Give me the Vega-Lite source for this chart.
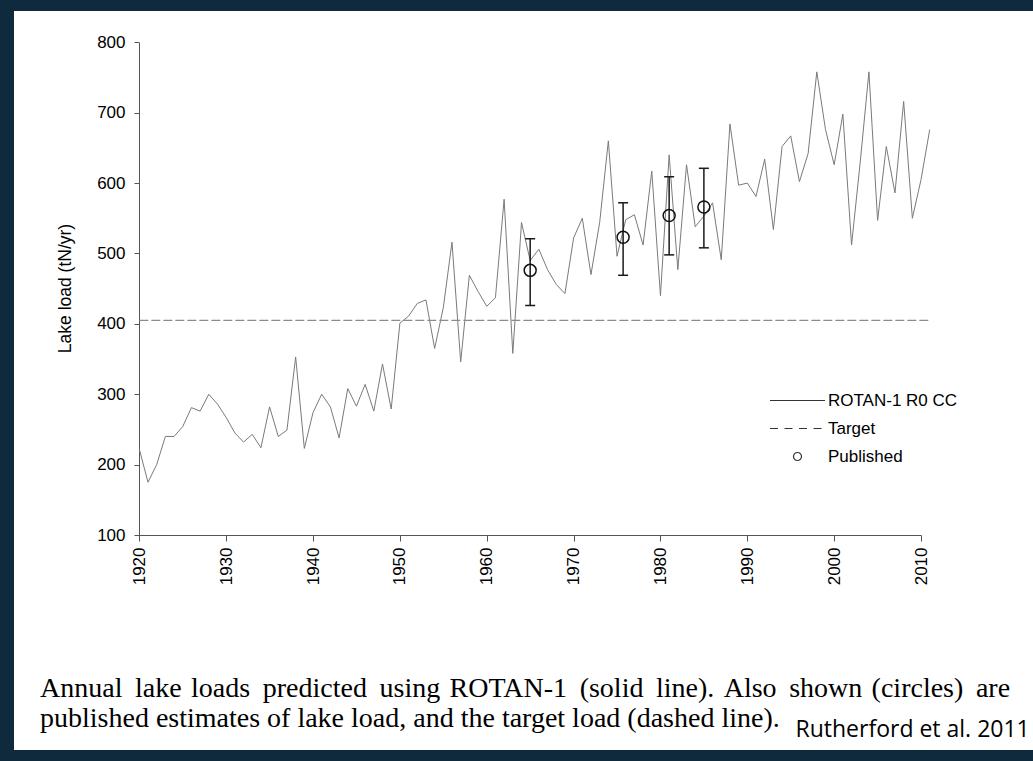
{
  "$schema": "https://vega.github.io/schema/vega-lite/v6.json",
  "width": 1019,
  "height": 739,
  "autosize": {"type": "none"},
  "padding": {"left": 14, "top": 11, "right": 0, "bottom": 11},
  "background": "#0f2a3d",
  "config": {
    "view": {"fill": "white", "stroke": null},
    "font": "Liberation Sans"
  },
  "title": {
    "text": [
      "Annual \u2009lake \u200aloads \u2009predicted \u2009using \u200aROTAN-1 \u2009(solid \u2009line). \u200aAlso \u2009shown \u200a(circles) \u2009are",
      "published estimates of lake load, and the target load (dashed line)."
    ],
    "orient": "bottom",
    "anchor": "start",
    "frame": "group",
    "font": "Liberation Serif",
    "fontSize": 28,
    "fontWeight": "normal",
    "color": "black",
    "lineHeight": 30,
    "baseline": "top",
    "offset": -75,
    "dx": 26
  },
  "datasets": {
    "rotan": [
      {"year": 1920, "load": 222}, {"year": 1921, "load": 175}, {"year": 1922, "load": 200},
      {"year": 1923, "load": 240}, {"year": 1924, "load": 240}, {"year": 1925, "load": 254},
      {"year": 1926, "load": 281}, {"year": 1927, "load": 276}, {"year": 1928, "load": 300},
      {"year": 1929, "load": 286}, {"year": 1930, "load": 267}, {"year": 1931, "load": 245},
      {"year": 1932, "load": 232}, {"year": 1933, "load": 243}, {"year": 1934, "load": 224},
      {"year": 1935, "load": 282}, {"year": 1936, "load": 240}, {"year": 1937, "load": 249},
      {"year": 1938, "load": 353}, {"year": 1939, "load": 223}, {"year": 1940, "load": 274},
      {"year": 1941, "load": 300}, {"year": 1942, "load": 282}, {"year": 1943, "load": 238},
      {"year": 1944, "load": 308}, {"year": 1945, "load": 283}, {"year": 1946, "load": 314},
      {"year": 1947, "load": 276}, {"year": 1948, "load": 343}, {"year": 1949, "load": 279},
      {"year": 1950, "load": 401}, {"year": 1951, "load": 411}, {"year": 1952, "load": 429},
      {"year": 1953, "load": 434}, {"year": 1954, "load": 365}, {"year": 1955, "load": 423},
      {"year": 1956, "load": 516}, {"year": 1957, "load": 346}, {"year": 1958, "load": 469},
      {"year": 1959, "load": 446}, {"year": 1960, "load": 425}, {"year": 1961, "load": 437},
      {"year": 1962, "load": 577}, {"year": 1963, "load": 358}, {"year": 1964, "load": 544},
      {"year": 1965, "load": 490}, {"year": 1966, "load": 506}, {"year": 1967, "load": 477},
      {"year": 1968, "load": 456}, {"year": 1969, "load": 443}, {"year": 1970, "load": 522},
      {"year": 1971, "load": 550}, {"year": 1972, "load": 470}, {"year": 1973, "load": 544},
      {"year": 1974, "load": 660}, {"year": 1975, "load": 496}, {"year": 1976, "load": 548},
      {"year": 1977, "load": 555}, {"year": 1978, "load": 512}, {"year": 1979, "load": 617},
      {"year": 1980, "load": 440}, {"year": 1981, "load": 640}, {"year": 1982, "load": 477},
      {"year": 1983, "load": 626}, {"year": 1984, "load": 538}, {"year": 1985, "load": 553},
      {"year": 1986, "load": 572}, {"year": 1987, "load": 491}, {"year": 1988, "load": 684},
      {"year": 1989, "load": 597}, {"year": 1990, "load": 600}, {"year": 1991, "load": 581},
      {"year": 1992, "load": 634}, {"year": 1993, "load": 534}, {"year": 1994, "load": 652},
      {"year": 1995, "load": 667}, {"year": 1996, "load": 602}, {"year": 1997, "load": 642},
      {"year": 1998, "load": 758}, {"year": 1999, "load": 676}, {"year": 2000, "load": 626},
      {"year": 2001, "load": 698}, {"year": 2002, "load": 512}, {"year": 2003, "load": 630},
      {"year": 2004, "load": 758}, {"year": 2005, "load": 547}, {"year": 2006, "load": 652},
      {"year": 2007, "load": 586}, {"year": 2008, "load": 716}, {"year": 2009, "load": 550},
      {"year": 2010, "load": 605}, {"year": 2011, "load": 676}
    ],
    "target": [{"start": 1920, "end": 2011, "load": 405}],
    "published": [
      {"year": 1965, "load": 476, "lo": 426, "hi": 521, "series": "Published"},
      {"year": 1975.7, "load": 523, "lo": 469, "hi": 572, "series": "Published"},
      {"year": 1981, "load": 554, "lo": 498, "hi": 609, "series": "Published"},
      {"year": 1985, "load": 566, "lo": 508, "hi": 621, "series": "Published"}
    ]
  },
  "layer": [
    {
      "data": {"name": "rotan"},
      "mark": {"type": "line", "color": "#7a7a7a", "strokeWidth": 1},
      "encoding": {
        "x": {
          "field": "year", "type": "quantitative", "title": "Rutherford et al. 2011",
          "scale": {"domain": [1905.574, 2022.89], "nice": false, "zero": false},
          "axis": {
            "values": [1920, 1930, 1940, 1950, 1960, 1970, 1980, 1990, 2000, 2010],
            "format": "d", "labelAngle": 270, "labelFontSize": 17, "labelColor": "black",
            "labelPadding": 6, "labelFlush": false, "labelOverlap": false,
            "tickSize": 6, "tickColor": "#555", "domainColor": "#555",
            "domainDash": [0, 124.7, 782.3, 3000],
            "offset": -215, "grid": false,
            "titleFont": "Open Sans", "titleFontSize": 23, "titleFontWeight": "normal",
            "titleColor": "black", "titleX": 781, "titleY": 201,
            "titleAlign": "left", "titleBaseline": "alphabetic", "titleAngle": 0
          }
        },
        "y": {
          "field": "load", "type": "quantitative", "title": "Lake load (tN/yr)",
          "scale": {"domain": [-205.44, 844.47], "nice": false, "zero": false},
          "axis": {
            "values": [100, 200, 300, 400, 500, 600, 700, 800],
            "labelFontSize": 17, "labelColor": "black", "labelPadding": 9,
            "labelFlush": false, "labelOverlap": false,
            "tickSize": 5, "tickColor": "#555", "domainColor": "#555",
            "domainDash": [0, 215, 492.7, 3000],
            "offset": -125, "grid": false,
            "titleFontSize": 17.5, "titleFontWeight": "normal", "titleColor": "black",
            "titleAngle": 270, "titleX": -74, "titleY": 277,
            "titleAlign": "center", "titleBaseline": "middle"
          }
        }
      }
    },
    {
      "data": {"name": "target"},
      "mark": {"type": "rule", "color": "#8c8c8c", "strokeWidth": 1.2, "strokeDash": [9, 3]},
      "encoding": {
        "x": {"field": "start", "type": "quantitative", "title": "Rutherford et al. 2011"},
        "x2": {"field": "end"},
        "y": {"field": "load", "type": "quantitative", "title": "Lake load (tN/yr)"}
      }
    },
    {
      "data": {"name": "published"},
      "mark": {"type": "rule", "color": "#1a1a1a", "strokeWidth": 1.5},
      "encoding": {
        "x": {"field": "year", "type": "quantitative", "title": "Rutherford et al. 2011"},
        "y": {"field": "lo", "type": "quantitative", "title": "Lake load (tN/yr)"},
        "y2": {"field": "hi"}
      }
    },
    {
      "data": {"name": "published"},
      "mark": {"type": "tick", "orient": "horizontal", "color": "#1a1a1a", "size": 10, "thickness": 1.5, "opacity": 1},
      "encoding": {
        "x": {"field": "year", "type": "quantitative", "title": "Rutherford et al. 2011"},
        "y": {"field": "lo", "type": "quantitative", "title": "Lake load (tN/yr)"}
      }
    },
    {
      "data": {"name": "published"},
      "mark": {"type": "tick", "orient": "horizontal", "color": "#1a1a1a", "size": 10, "thickness": 1.5, "opacity": 1},
      "encoding": {
        "x": {"field": "year", "type": "quantitative", "title": "Rutherford et al. 2011"},
        "y": {"field": "hi", "type": "quantitative", "title": "Lake load (tN/yr)"}
      }
    },
    {
      "data": {"name": "published"},
      "mark": {"type": "point", "filled": false, "size": 225, "color": "#111111", "strokeWidth": 1.5, "opacity": 1},
      "encoding": {
        "x": {"field": "year", "type": "quantitative", "title": "Rutherford et al. 2011"},
        "y": {"field": "load", "type": "quantitative", "title": "Lake load (tN/yr)"},
        "shape": {
          "field": "series", "type": "nominal",
          "scale": {
            "domain": ["ROTAN-1 R0 CC", "Target", "Published"],
            "range": [
              "M-5.5,0H5.5",
              "M-5.5,0H-3.9M-2.6,0H-1M0.3,0H1.9M3.2,0H4.8",
              "M-0.8,0A0.8,0.8,0,1,1,0.8,0A0.8,0.8,0,1,1,-0.8,0Z"
            ]
          },
          "legend": {
            "orient": "none", "legendX": 775, "legendY": 381, "title": null,
            "labelFontSize": 17, "labelColor": "black", "labelFont": "Liberation Sans",
            "symbolSize": 100, "symbolStrokeWidth": 1.2, "symbolStrokeColor": "#333333",
            "symbolFillColor": "transparent", "labelOffset": 22, "rowPadding": 10,
            "padding": 0, "labelLimit": 300
          }
        }
      }
    }
  ]
}
